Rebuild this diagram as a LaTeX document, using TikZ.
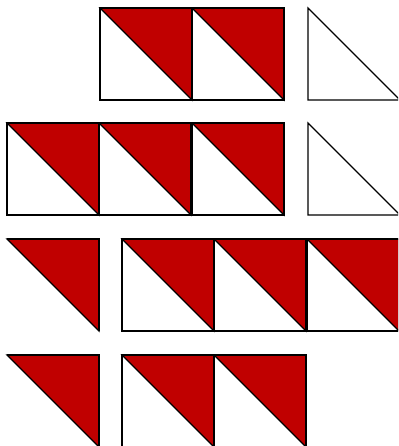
\documentclass[tikz,border=0pt]{standalone}
\definecolor{qred}{RGB}{192,0,0}
\tikzset{
  edge/.style={draw=black, line width=1.4pt, line join=miter},
  redhalf/.style={fill=qred, draw=black, line width=1.2pt, line join=miter},
}
\newcommand{\hsquare}[2]{%
  \fill[white] (#1,#2) rectangle ++(92,92);
  \path[redhalf] (#1,#2) -- ++(92,0) -- ++(0,92) -- cycle;
  \draw[edge] (#1,#2) rectangle ++(92,92);
}
\newcommand{\redtri}[2]{%
  \path[redhalf] (#1,#2) -- ++(92,0) -- ++(0,92) -- cycle;
  \draw[edge] (#1,#2) -- ++(92,0) -- ++(0,92);
}
\newcommand{\whitetri}[2]{%
  \draw[edge, line width=1.2pt] (#1,#2) -- ++(0,92) -- ++(92,0) -- cycle;
}
\begin{document}
\begin{tikzpicture}[x=1pt,y=-1pt]
\useasboundingbox (0,0) rectangle (398,446);
\clip (0,0) rectangle (398,446);
% row 1
\hsquare{100}{8}
\hsquare{192}{8}
\whitetri{308}{8}
% row 2
\hsquare{7}{123}
\hsquare{99}{123}
\hsquare{192}{123}
\whitetri{308}{123}
% row 3
\redtri{7}{239}
\hsquare{122}{239}
\hsquare{214}{239}
\hsquare{307}{239}
% row 4
\redtri{7}{355}
\hsquare{122}{355}
\hsquare{214}{355}
\end{tikzpicture}
\end{document}
